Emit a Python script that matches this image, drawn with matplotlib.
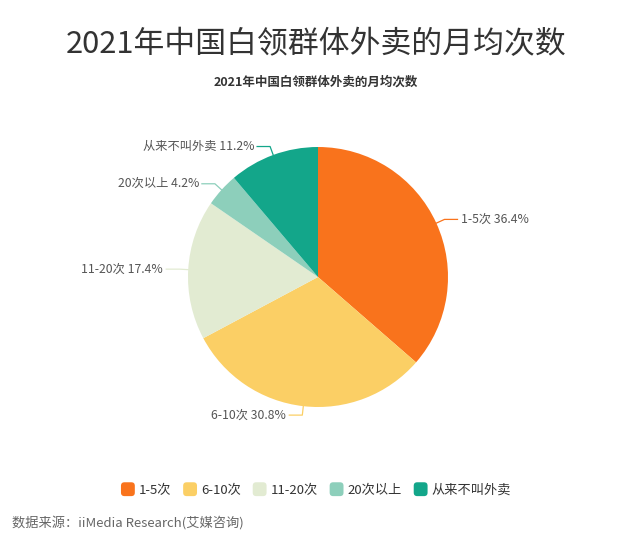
import matplotlib
matplotlib.use('Agg')
import matplotlib.pyplot as plt
from matplotlib.patches import Patch, FancyBboxPatch
from matplotlib.legend_handler import HandlerPatch
import numpy as np

plt.rcParams['font.family'] = ['Noto Sans CJK SC', 'DejaVu Sans']

# data
categories = ['1-5次', '6-10次', '11-20次', '20次以上', '从来不叫外卖']
shares = [36.4, 30.8, 17.4, 4.2, 11.2]
colors = ['#F9731C', '#FBCF65', '#E2EBD2', '#8DCFBB', '#13A68A']


class RoundHandler(HandlerPatch):
    def create_artists(self, legend, orig_handle, xdescent, ydescent, width, height, fontsize, trans):
        s = fontsize * 1.05
        p = FancyBboxPatch((-xdescent + (width - s) / 2, -ydescent + (height - s) / 2), s, s,
                           boxstyle='round,pad=0,rounding_size=2.5',
                           facecolor=orig_handle.get_facecolor(), edgecolor='none',
                           transform=trans)
        return [p]


W, H = 632, 537
fig = plt.figure(figsize=(W / 100, H / 100), dpi=100)
ax = fig.add_axes([0, 0, 1, 1])

cx, cy, r = 318, H - 277, 130
wedges, _ = ax.pie(shares, colors=colors, startangle=90, counterclock=False,
                   center=(cx, cy), radius=r, frame=True,
                   wedgeprops=dict(linewidth=0))
ax.set_xlim(0, W)
ax.set_ylim(0, H)
ax.set_aspect('equal')
ax.axis('off')

# leader lines and labels
for w, cat, v, c in zip(wedges, categories, shares, colors):
    ang = np.deg2rad((w.theta1 + w.theta2) / 2)
    x0, y0 = cx + r * np.cos(ang), cy + r * np.sin(ang)
    x1, y1 = cx + (r + 9) * np.cos(ang), cy + (r + 9) * np.sin(ang)
    side = 1 if np.cos(ang) >= 0 else -1
    x2 = x1 + side * 13
    ax.plot([x0, x1, x2], [y0, y1, y1], color=c, lw=0.9)
    ax.text(x2 + side * 3, y1, f'{cat} {v}%', ha='left' if side > 0 else 'right',
            va='center', fontsize=8.8, color='#555555')

fig.text(0.5, 1 - 45 / H, '2021年中国白领群体外卖的月均次数', ha='center', va='center',
         fontsize=22.2, color='#333333')
fig.text(0.5, 1 - 82 / H, '2021年中国白领群体外卖的月均次数', ha='center', va='center',
         fontsize=9, fontweight='bold', color='#333333')

handles = [Patch(facecolor=c, edgecolor='none') for c in colors]
fig.legend(handles, categories, loc='center', bbox_to_anchor=(0.5, 1 - 490 / H), ncol=5,
           frameon=False, fontsize=9.5, handlelength=1.05, handleheight=1.0,
           handletextpad=0.3, columnspacing=0.9, labelcolor='#333333',
           handler_map={Patch: RoundHandler()})

fig.text(12 / W, 1 - 523 / H, '数据来源：iiMedia Research(艾媒咨询)', ha='left', va='center',
         fontsize=9.5, color='#666666')

fig.savefig('out.png', dpi=100)
